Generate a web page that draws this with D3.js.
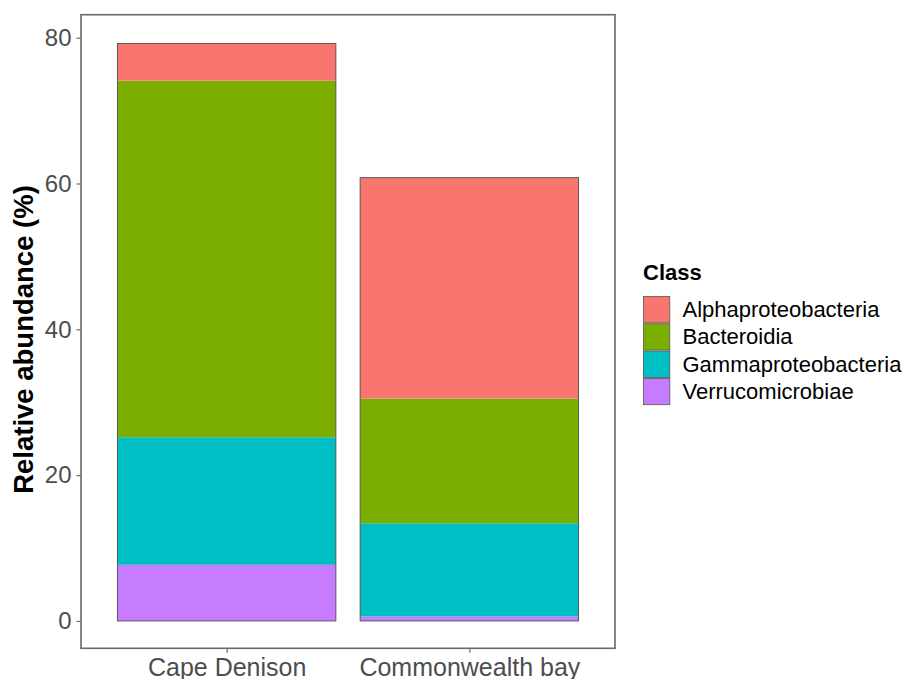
<!DOCTYPE html>
<html>
<head>
<meta charset="utf-8">
<script src="https://cdn.jsdelivr.net/npm/d3@7"></script>
<style>
  html, body { margin: 0; padding: 0; background: #ffffff; }
  svg { display: block; }
  text { font-family: "Liberation Sans", Arial, sans-serif; }
</style>
</head>
<body>
<svg id="chart" width="903" height="679"></svg>
<script>
// ---- data ----
const sites = ["Cape Denison", "Commonwealth bay"];
const classes = ["Alphaproteobacteria", "Bacteroidia", "Gammaproteobacteria", "Verrucomicrobiae"];
const classColors = ["#F8766D", "#7CAE00", "#00BFC4", "#C77CFF"];
const alphaproteobacteria = [5.1, 30.3];
const bacteroidia = [48.9, 17.1];
const gammaproteobacteria = [17.5, 12.8];
const verrucomicrobiae = [7.7, 0.6];
const yTicks = [0, 20, 40, 60, 80];
const yLimits = [-3.75, 83.15];

// ---- layout ----
const svg = d3.select("#chart");
const panel = { left: 81, right: 615, top: 14.7, bottom: 648.3 };

const seriesValues = [alphaproteobacteria, bacteroidia, gammaproteobacteria, verrucomicrobiae];
const rows = sites.map((s, i) => {
  const r = { site: s };
  classes.forEach((c, k) => { r[c] = seriesValues[k][i]; });
  return r;
});

// stack: last class at bottom (ggplot order)
const stackKeys = classes.slice().reverse();
const stacked = d3.stack().keys(stackKeys)(rows);

// ggplot discrete: positions at 1,2 with limits 0.4..2.6, width 0.9
const unit = (panel.right - panel.left) / 2.2;
const xCenter = d => panel.left + (0.6 + sites.indexOf(d)) * unit;
const barW = 0.9 * unit;

const y = d3.scaleLinear().domain(yLimits).range([panel.bottom, panel.top]);
const color = d3.scaleOrdinal().domain(classes).range(classColors);

// bars (segments without separators)
svg.append("g").selectAll("g")
  .data(stacked)
  .join("g")
  .attr("fill", d => color(d.key))
  .selectAll("rect")
  .data(d => d)
  .join("rect")
  .attr("x", d => xCenter(d.data.site) - barW / 2)
  .attr("width", barW)
  .attr("y", d => y(d[1]))
  .attr("height", d => y(d[0]) - y(d[1]));

// outline around each stacked bar
const totals = rows.map(r => ({ site: r.site, total: d3.sum(classes, c => r[c]) }));
svg.append("g").selectAll("rect")
  .data(totals)
  .join("rect")
  .attr("x", d => xCenter(d.site) - barW / 2)
  .attr("width", barW)
  .attr("y", d => y(d.total))
  .attr("height", d => y(0) - y(d.total))
  .attr("fill", "none")
  .attr("stroke", "#505050")
  .attr("stroke-width", 0.9);

// panel border
svg.append("rect")
  .attr("x", panel.left).attr("y", panel.top)
  .attr("width", panel.right - panel.left)
  .attr("height", panel.bottom - panel.top)
  .attr("fill", "none")
  .attr("stroke", "#6a6a6a")
  .attr("stroke-width", 1.6);

// y axis
const yAxis = d3.axisLeft(y).tickValues(yTicks).tickSize(4.5).tickPadding(5);
const gy = svg.append("g").attr("transform", `translate(${panel.left},0)`).call(yAxis);
gy.select(".domain").remove();
gy.selectAll(".tick line").attr("stroke", "#6a6a6a").attr("stroke-width", 1.2);
gy.selectAll(".tick text")
  .attr("fill", "#4d4d4d")
  .style("font-size", "24px")
  .attr("font-family", "Liberation Sans, Arial, sans-serif");

// x axis
const xAxisScale = d3.scaleOrdinal().domain(sites).range(sites.map(xCenter));
const xAxis = d3.axisBottom(xAxisScale).tickSize(4.5).tickPadding(5);
const gx = svg.append("g").attr("transform", `translate(0,${panel.bottom})`).call(xAxis);
gx.select(".domain").remove();
gx.selectAll(".tick line").attr("stroke", "#6a6a6a").attr("stroke-width", 1.2);
gx.selectAll(".tick text")
  .attr("fill", "#4d4d4d")
  .style("font-size", "25px")
  .attr("font-family", "Liberation Sans, Arial, sans-serif");

// y title
svg.append("text")
  .attr("transform", `translate(33,${(panel.top + panel.bottom) / 2 + 8}) rotate(-90)`)
  .attr("text-anchor", "middle")
  .style("font-size", "27.5px")
  .style("font-weight", "bold")
  .attr("fill", "#000")
  .text("Relative abundance (%)");

// legend
const lg = svg.append("g");
lg.append("text")
  .attr("x", 643).attr("y", 280)
  .style("font-size", "22px")
  .style("font-weight", "bold")
  .attr("fill", "#000")
  .text("Class");
const keySize = 27.3;
const items = lg.selectAll("g.item")
  .data(classes)
  .join("g")
  .attr("class", "item")
  .attr("transform", (d, i) => `translate(643,${296 + i * keySize})`);
items.append("rect")
  .attr("x", 0.5).attr("y", 0.5)
  .attr("width", keySize - 1).attr("height", keySize - 1)
  .attr("fill", d => color(d))
  .attr("stroke", "#555")
  .attr("stroke-width", 0.8);
items.append("text")
  .attr("x", 39.5)
  .attr("y", keySize / 2 + 7.5)
  .style("font-size", "22px")
  .attr("fill", "#000")
  .text(d => d);
</script>
</body>
</html>
